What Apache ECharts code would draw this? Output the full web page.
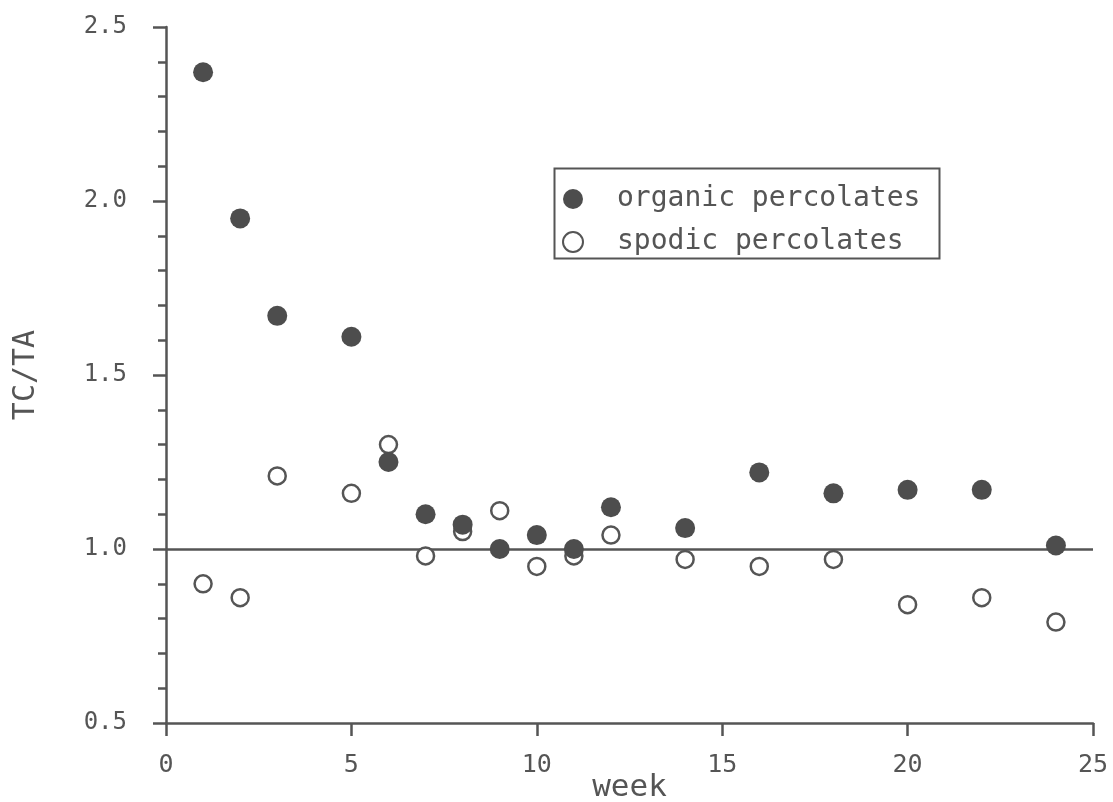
<!DOCTYPE html>
<html>
<head>
<meta charset="utf-8">
<script src="https://cdn.jsdelivr.net/npm/echarts@6/dist/echarts.min.js"></script>
<style>
  html, body { margin: 0; padding: 0; background: #fff; }
  #chart { width: 1113px; height: 802px; }
</style>
</head>
<body>
<div id="chart"></div>
<script>
// weeks of sampling
var weeks = [1, 2, 3, 5, 6, 7, 8, 9, 10, 11, 12, 14, 16, 18, 20, 22, 24];
// TC/TA ratio, organic horizon percolates (filled)
var organic = [2.37, 1.95, 1.67, 1.61, 1.25, 1.10, 1.07, 1.00, 1.04, 1.00, 1.12, 1.06, 1.22, 1.16, 1.17, 1.17, 1.01];
// TC/TA ratio, spodic horizon percolates (open)
var spodic = [0.90, 0.86, 1.21, 1.16, 1.30, 0.98, 1.05, 1.11, 0.95, 0.98, 1.04, 0.97, 0.95, 0.97, 0.84, 0.86, 0.79];

var ink = '#555555';
var font = '"DejaVu Sans Mono", monospace';

function pairs(xs, ys){
    var out = [];
    for (var i = 0; i < xs.length; i++) out.push([xs[i], ys[i]]);
    return out;
}

var chart = echarts.init(document.getElementById('chart'), null, {renderer: 'canvas'});

chart.setOption({
    animation: false,
    backgroundColor: '#ffffff',
    grid: {left: 166, right: 20, top: 27, bottom: 79, outerBoundsMode: 'none', containLabel: false},
    graphic: [{
        type: 'rect',
        left: 552, top: 166,
        shape: {width: 385, height: 90},
        style: {fill: 'none', stroke: ink, lineWidth: 2}
    }],
    legend: {
        orient: 'vertical',
        left: 562, top: 185,
        padding: 0,
        itemWidth: 20, itemHeight: 20,
        itemGap: 15,
        textStyle: {fontFamily: font, fontSize: 28, color: ink, padding: [0, 0, 0, 29]},
        data: [{name: 'organic percolates'}, {name: 'spodic percolates'}]
    },
    xAxis: {
        type: 'value',
        min: 0, max: 25, interval: 5,
        name: 'week',
        nameLocation: 'middle',
        nameGap: 65,
        nameMoveOverlap: false,
        nameTextStyle: {fontFamily: font, fontSize: 31, color: ink, verticalAlign: 'middle'},
        axisLine: {show: true, lineStyle: {color: ink, width: 2.5}},
        axisTick: {show: true, length: 13, lineStyle: {color: ink, width: 2.5}},
        axisLabel: {fontFamily: font, fontSize: 25, color: ink, margin: 30},
        splitLine: {show: false}
    },
    yAxis: {
        type: 'value',
        min: 0.5, max: 2.5, interval: 0.5,
        name: 'TC/TA',
        nameLocation: 'middle',
        nameGap: 125,
        nameMoveOverlap: false,
        nameRotate: 90,
        nameTextStyle: {fontFamily: font, fontSize: 30, color: ink},
        axisLine: {show: true, lineStyle: {color: ink, width: 2.5}},
        axisTick: {show: true, length: 13, lineStyle: {color: ink, width: 2.5}},
        minorTick: {show: true, splitNumber: 5, length: 8, lineStyle: {color: ink, width: 2.5}},
        axisLabel: {
            fontFamily: font, fontSize: 24, color: ink, margin: 39,
            formatter: function(v){ return v.toFixed(1); }
        },
        splitLine: {show: false}
    },
    series: [{
        name: 'spodic percolates',
        type: 'scatter',
        symbol: 'circle',
        symbolSize: 17,
        itemStyle: {color: '#ffffff', borderColor: ink, borderWidth: 2.5, opacity: 1},
        data: pairs(weeks, spodic),
        z: 3,
        markLine: {
            silent: true,
            symbol: 'none',
            label: {show: false},
            lineStyle: {color: ink, width: 2.5, type: 'solid'},
            data: [{yAxis: 1.0}],
            z: 1
        }
    }, {
        name: 'organic percolates',
        type: 'scatter',
        symbol: 'circle',
        symbolSize: 20,
        itemStyle: {color: '#4d4d4d', opacity: 1},
        data: pairs(weeks, organic),
        z: 4
    }]
});
</script>
</body>
</html>
